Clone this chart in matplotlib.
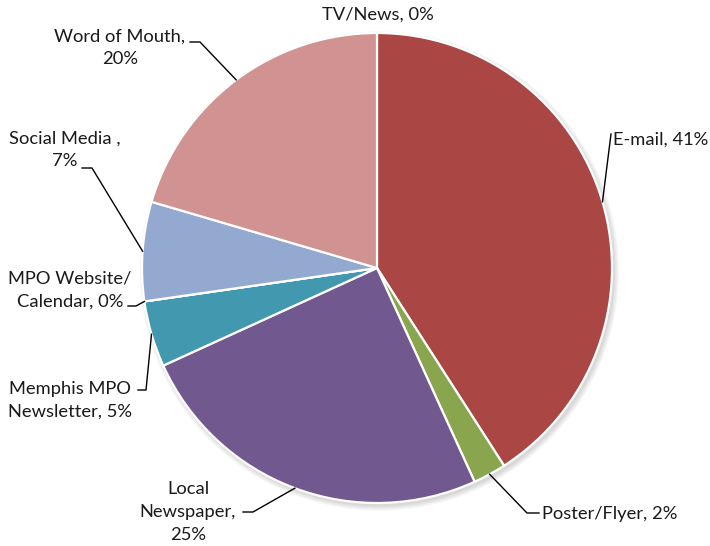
import numpy as np
import matplotlib.pyplot as plt

# survey responses (counts), clockwise from the top
sources = ['TV/News', 'E-mail', 'Poster/Flyer', 'Local\nNewspaper', 'Memphis MPO\nNewsletter',
           'MPO Website/\nCalendar', 'Social Media ', 'Word of Mouth']
counts = [0, 18, 1, 11, 2, 0, 3, 9]
colors = ['#4572A7', '#AA4643', '#89A54E', '#71588F', '#4198AF', '#DB843D', '#93A9CF', '#D09392']

# label layout in pixels: text anchor, alignment, separator, leader elbow points
W, H = 710, 546
CX, CY, R = 377, 268, 235
layout = {
    'TV/News':                 ((378, 15), 'center', ', ', []),
    'E-mail':                  ((613, 140), 'left', ', ', [(611, 134)]),
    'Poster/Flyer':            ((542, 514), 'left', ', ', [(527, 513), (539, 513)]),
    'Local\nNewspaper':        ((188, 512), 'center', ',\n', [(253, 512), (243, 512)]),
    'Memphis MPO\nNewsletter': ((70, 400), 'center', ', ', [(146, 390), (138, 390)]),
    'MPO Website/\nCalendar':  ((70, 290), 'center', ', ', [(136, 306), (128, 306)]),
    'Social Media ':           ((65, 150), 'center', ',\n', [(92, 168), (82, 168)]),
    'Word of Mouth':           ((120, 48), 'center', ',\n', [(200, 42), (190, 42)]),
}


def px(p):
    return ((p[0] - CX) / R, (CY - p[1]) / R)


plt.rcParams['font.family'] = ['Lato', 'DejaVu Sans']
fig = plt.figure(figsize=(W / 100, H / 100), dpi=100)
ax = fig.add_axes([0, 0, 1, 1])

# soft shadow
for k in range(5):
    ax.add_patch(plt.Circle((0.01, -0.013), 1.0 + 0.005 * k, color='#000000',
                            alpha=0.03, lw=0, zorder=0))

wedges, _ = ax.pie(counts, colors=colors, startangle=90, counterclock=False, radius=1,
                   wedgeprops=dict(edgecolor='white', linewidth=1.6))
for w in wedges:
    w.set_zorder(2)

ax.set_xlim(-CX / R, (W - CX) / R)
ax.set_ylim((CY - H) / R, CY / R)
ax.set_aspect('equal')
ax.axis('off')

total = sum(counts)
for w, name, c in zip(wedges, sources, counts):
    pos, ha, sep, elbow = layout[name]
    pct = int(round(100.0 * c / total))
    ax.text(*px(pos), f'{name}{sep}{pct}%', ha=ha, va='center', multialignment='center',
            fontsize=13.2, color='#1a1a1a', linespacing=1.5, zorder=5)
    if elbow:
        mid = np.deg2rad((w.theta1 + w.theta2) / 2)
        pts = [(np.cos(mid), np.sin(mid))] + [px(p) for p in elbow]
        xs, ys = zip(*pts)
        ax.plot(xs, ys, color='black', lw=1.0, zorder=4)

fig.savefig('out.png', dpi=100)
